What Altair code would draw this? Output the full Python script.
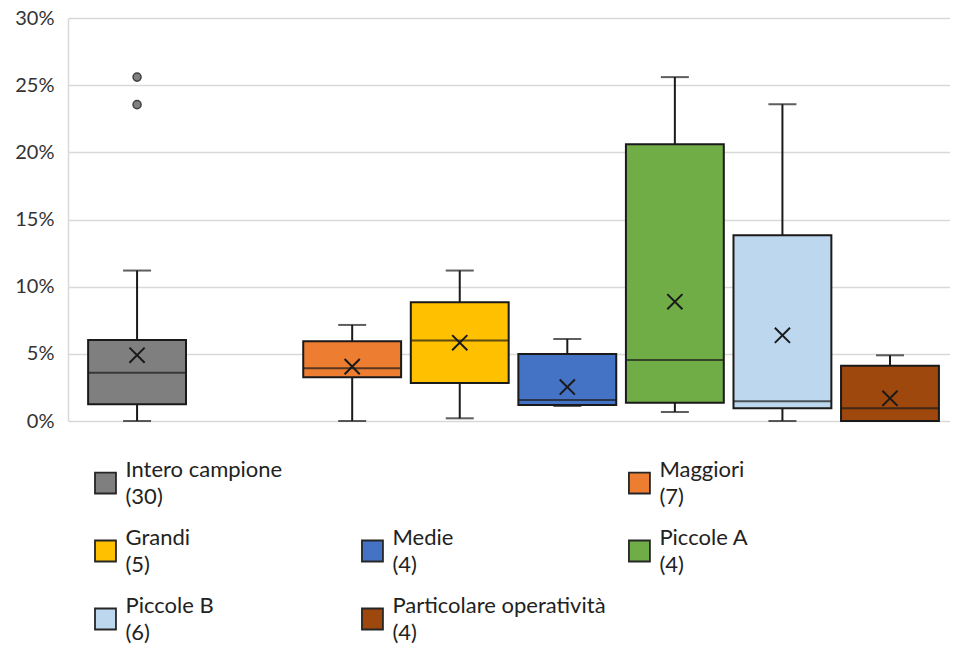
import altair as alt
import pandas as pd

# ---- data (values in %) ----
categories = ["Intero campione", " ", "Maggiori", "Grandi", "Medie",
              "Piccole A", "Piccole B", "Particolare operatività"]
counts = ["30", "", "7", "5", "4", "4", "6", "4"]
colors = ["#7F7F7F", "transparent", "#ED7D31", "#FFC000", "#4472C4",
          "#70AD47", "#BDD7EE", "#9E480E"]

whisker_low = [0.0, None, 0.0, 0.2, 1.12, 0.67, 0.0, 0.0]
q1 = [1.24, None, 3.25, 2.83, 1.19, 1.36, 0.94, 0.0]
median = [3.6, None, 3.92, 6.0, 1.56, 4.54, 1.47, 0.94]
q3 = [6.03, None, 5.93, 8.84, 4.99, 20.6, 13.83, 4.12]
whisker_high = [11.2, None, 7.15, 11.2, 6.1, 25.6, 23.58, 4.89]
mean = [4.9, None, 4.05, 5.83, 2.53, 8.88, 6.38, 1.69]

outlier_cat = ["Intero campione", "Intero campione"]
outlier_val = [23.55, 25.6]

LEGEND_COLS = 3

rows = []
leg_rows = []
for i, c in enumerate(categories):
    if counts[i] == "":
        continue
    rows.append({
        "cat": c,
        "wlo": whisker_low[i] / 100, "q1": q1[i] / 100, "med": median[i] / 100,
        "q3": q3[i] / 100, "whi": whisker_high[i] / 100, "mean": mean[i] / 100,
    })
    leg_rows.append({"label": f"{c}|({counts[i]})", "color": colors[i],
                     "col": i % LEGEND_COLS, "row": i // LEGEND_COLS})
df = pd.DataFrame(rows)
df_leg = pd.DataFrame(leg_rows)
df_out = pd.DataFrame({"cat": outlier_cat, "v": [v / 100 for v in outlier_val]})

FONT = "Lato"
INK = "#1a1a1a"
xenc = alt.X("cat:N", axis=None,
             scale=alt.Scale(domain=categories, paddingInner=0.09, paddingOuter=0.145, align=0.645))
yscale = alt.Scale(domain=[0, 0.30], nice=False)
yaxis = alt.Axis(format=".0%", values=[0, 0.05, 0.10, 0.15, 0.20, 0.25, 0.30],
                 grid=True, gridColor="#D9D9D9", gridWidth=1.5,
                 domainColor="#D9D9D9", domainWidth=1.5, ticks=False,
                 labelFont=FONT, labelFontSize=20, labelColor="#333333",
                 labelPadding=14, minExtent=60, maxExtent=60, title=None)

base = alt.Chart(df)

whiskers = base.mark_rule(color=INK, strokeWidth=2).encode(
    x=xenc, y=alt.Y("wlo:Q", scale=yscale, axis=yaxis), y2="whi:Q")
cap_lo = base.mark_tick(color=INK, size=28, thickness=2).encode(
    x=xenc, y=alt.Y("wlo:Q", scale=yscale))
cap_hi = base.mark_tick(color=INK, size=28, thickness=2).encode(
    x=xenc, y=alt.Y("whi:Q", scale=yscale))
boxes = base.mark_bar(stroke=INK, strokeWidth=2, opacity=1).encode(
    x=xenc, y=alt.Y("q1:Q", scale=yscale), y2="q3:Q",
    color=alt.Color("cat:N", scale=alt.Scale(domain=categories, range=colors), legend=None),
)
medians = base.mark_tick(color=INK, size=97, thickness=2).encode(
    x=xenc, y=alt.Y("med:Q", scale=yscale))
means = base.mark_point(shape="M-1,-1L1,1M-1,1L1,-1", filled=False,
                        color=INK, strokeWidth=2, size=230, opacity=1).encode(
    x=xenc, y=alt.Y("mean:Q", scale=yscale))
outliers = alt.Chart(df_out).mark_point(filled=True, color="#808080", stroke="#404040",
                                        strokeWidth=1.5, size=65, opacity=1).encode(
    x=xenc, y=alt.Y("v:Q", scale=yscale))

main = alt.layer(whiskers, cap_lo, cap_hi, boxes, medians, means, outliers).properties(
    width=882, height=403)

# ---- legend drawn as its own small view ----
lx = alt.X("col:Q", axis=None, scale=alt.Scale(domain=[-0.1404, 2.594], nice=False, zero=False))
ly = alt.Y("row:Q", axis=None, scale=alt.Scale(domain=[-0.765, 2.397], nice=False, zero=False,
                                                reverse=True))
leg_base = alt.Chart(df_leg)
leg_sym = leg_base.mark_point(shape="square", filled=True, size=440, stroke="#262626",
                              strokeWidth=1.8, opacity=1).encode(
    x=lx, y=ly, color=alt.Color("color:N", scale=None))
leg_txt = leg_base.mark_text(align="left", baseline="middle", dx=20, dy=-13.5,
                             lineBreak="|", lineHeight=27, font=FONT, fontSize=22,
                             color="#222222").encode(x=lx, y=ly, text="label:N")
legend = alt.layer(leg_sym, leg_txt).properties(width=730, height=215)

chart = alt.vconcat(main, legend, spacing=0).resolve_scale(
    x="independent", y="independent", color="independent"
).properties(
    padding={"left": 0, "top": 0, "right": 0, "bottom": 0},
).configure_view(strokeWidth=0, stroke=None)

chart.save("out.html", embed_options={"renderer": "svg", "actions": False})
